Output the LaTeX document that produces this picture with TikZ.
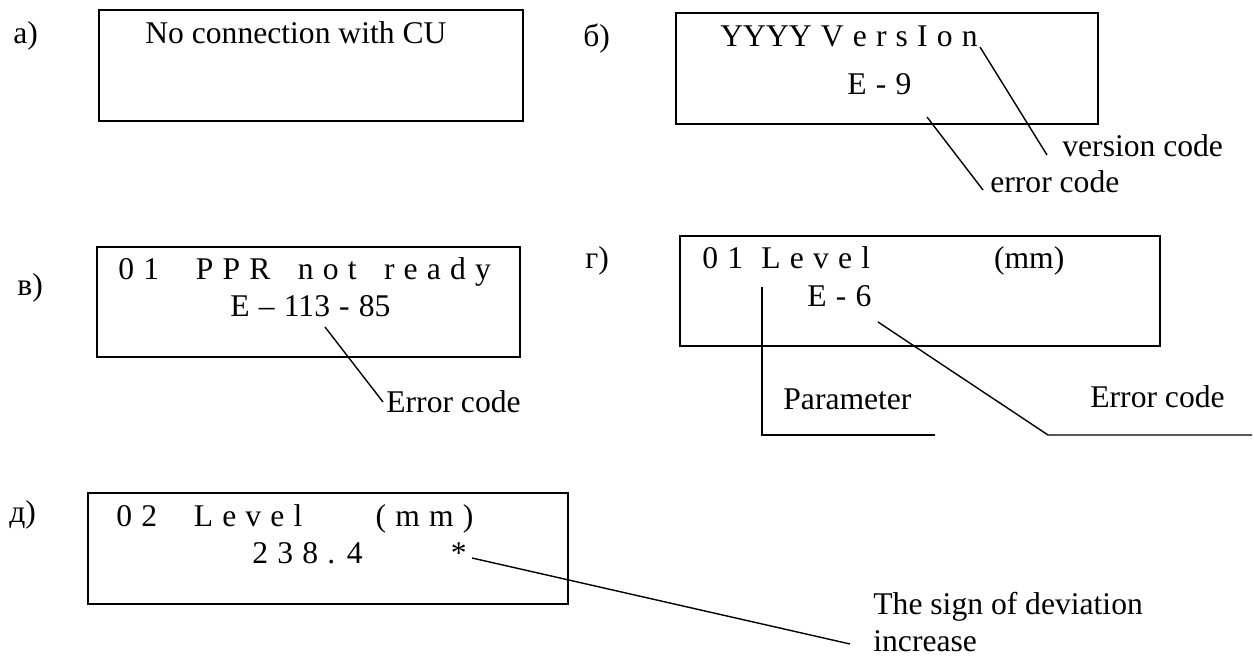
\documentclass[tikz,border=0pt]{standalone}
\usepackage{fontspec}
\setmainfont{Liberation Serif}
\newfontfamily\lcd[WordSpace=1.16]{Liberation Serif}
\usetikzlibrary{calc}
\newcommand{\disp}{\fontsize{15.8}{18.5}\selectfont}

\begin{document}
\begin{tikzpicture}[x=0.5pt,y=-0.5pt,font=\disp,
  screen/.style={draw,line width=0.9pt,inner sep=0,minimum height=55.5pt},
  row/.style={anchor=base west,inner sep=0,font=\disp\lcd},
  tag/.style={anchor=base west,inner sep=0},
  lead/.style={line width=0.7pt}]
\useasboundingbox (0,0) rectangle (1254,656);
% a) no connection
\node[tag] (labA) at (13,44) {а)};
\node[screen,minimum width=212pt] (scrA) at (311,65.5) {};
\node[tag] (txtA) at (145,44) {No connection with CU};
% b) version
\node[tag] (labB) at (583,47) {б)};
\node[screen,minimum width=211pt] (scrB) at (887,68.5) {};
\node[row] (verB) at (720,47) {YYYY V e r s I o n};
\node[row] (errB) at (847,95) {E - 9};
\coordinate (verS) at (980,47);
\coordinate (errS) at (927,117);
\node[tag] (verT) at (1062,157) {version code};
\node[tag] (errT) at (990,193) {error code};
\draw[lead] (verS) -- ([xshift=-7.5pt,yshift=1pt]verT.base west);
\draw[lead] (errS) -- ([xshift=-3.5pt,yshift=1.5pt]errT.base west);
% v) PPR not ready
\node[tag] (labC) at (17,296) {в)};
\node[screen,minimum width=211.5pt,minimum height=55pt] (scrC) at (308.5,302) {};
\node[row] (rowC) at (118,280) {0 1\ \ \ \ P P R\ \ \ n o t\ \ \ r e a d y};
\node[row] (errC) at (230,317) {E – 113 - 85};
\coordinate (codeS) at (325,327);
\node[tag] (codeT) at (386,413) {Error code};
\draw[lead] (codeS) -- ([xshift=-1.5pt,yshift=5.5pt]codeT.base west);
% g) level error
\node[tag] (labD) at (585,269) {г)};
\node[screen,minimum width=240pt,minimum height=55pt] (scrD) at (920,291) {};
\node[row] (rowD) at (702,269) {0 1\ \ L e v e l\hspace{62pt}(mm)};
\node[row] (errD) at (807,307) {E - 6};
\node[tag] (parT) at (783,410) {Parameter};
\node[tag] (e6T) at (1090,408) {Error code};
\coordinate (parS) at (762,287);
\coordinate (parE) at (935,435);
\draw[lead] (parS) |- (parE);
\coordinate (e6S) at (878,322);
\coordinate (e6K) at (1048,435);
\coordinate (e6E) at (1252,435);
\draw[lead] (e6S) -- (e6K) -- (e6E);
% d) deviation sign
\node[tag] (labE) at (9,523) {д)};
\node[screen,minimum width=240pt] (scrE) at (328,548.5) {};
\node[row] (rowE) at (116,527) {0 2\ \ \ \ L e v e l\ \ \ \ \ \ \ \ ( m m )};
\node[row] (valE) at (252,564) {2 3 8 . 4\hspace{44pt}*};
\coordinate (starS) at (472,558);
\node[anchor=south west,inner sep=0,align=left] (signT) at (873,652) {The sign of deviation\\increase};
\draw[lead] (starS) -- ([xshift=-11.5pt,yshift=4pt]signT.south west);
\end{tikzpicture}
\end{document}
